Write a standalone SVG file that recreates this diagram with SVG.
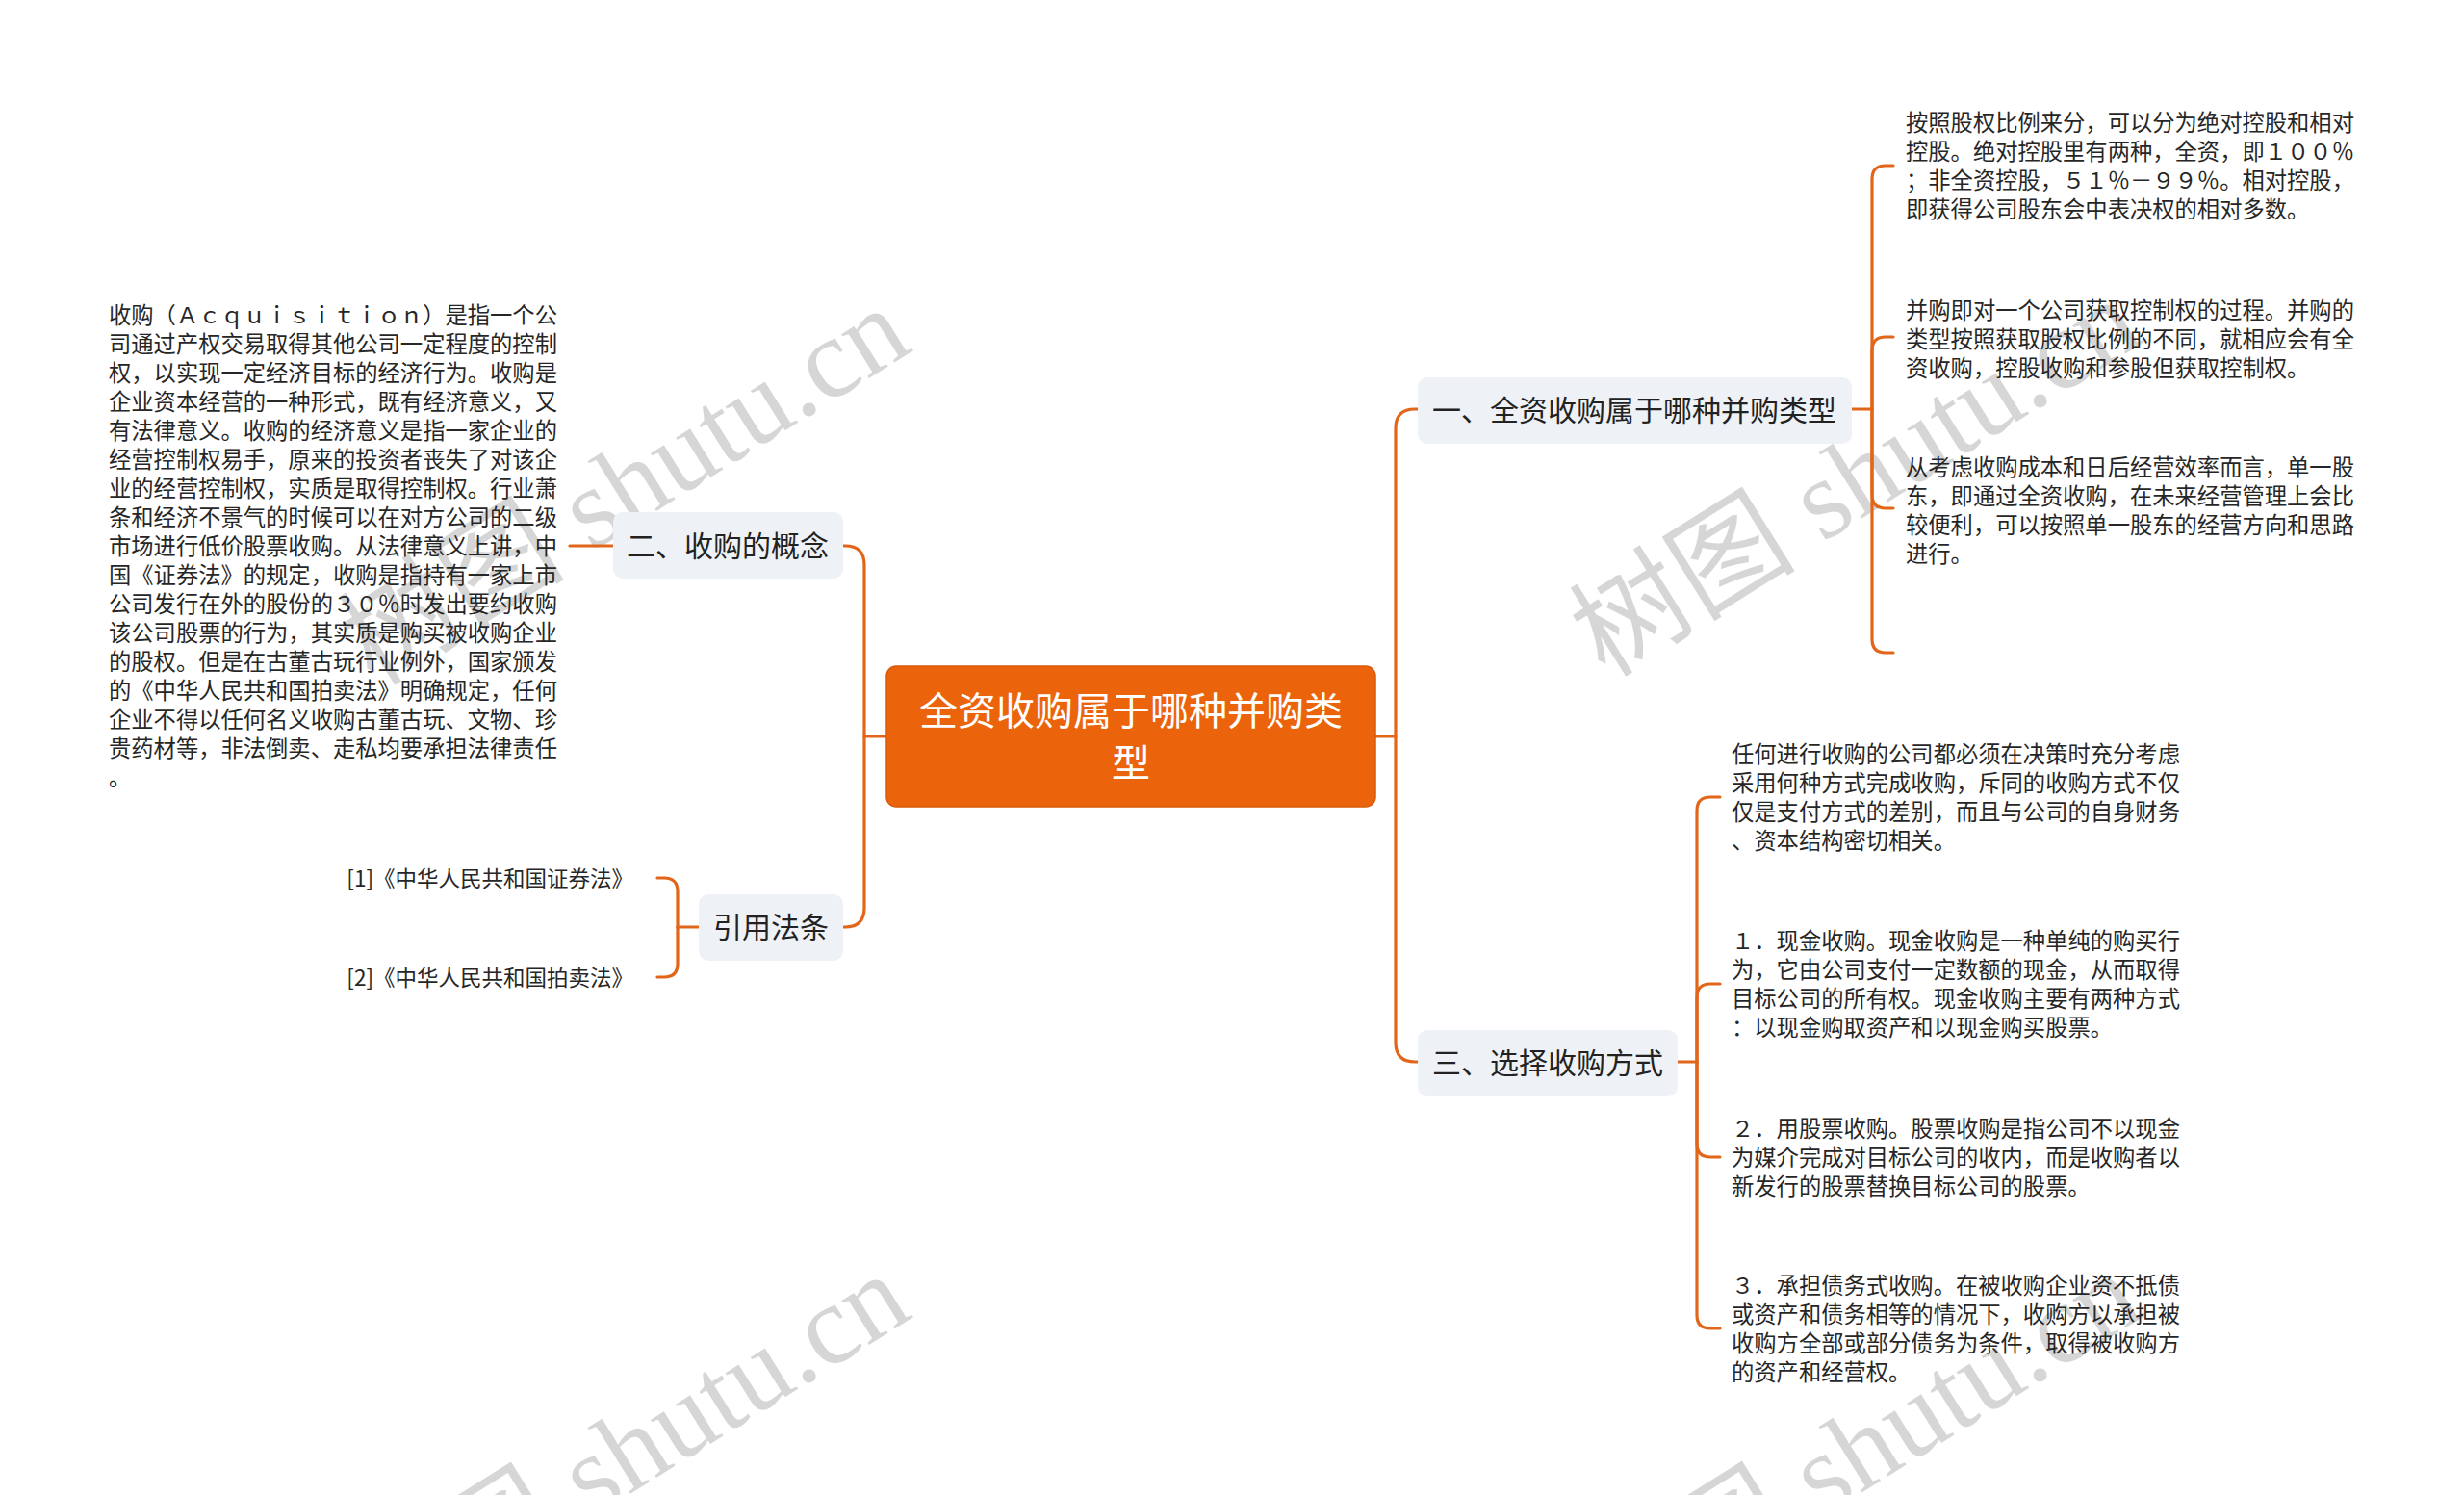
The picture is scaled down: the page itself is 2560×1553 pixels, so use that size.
<svg xmlns="http://www.w3.org/2000/svg" width="2560" height="1553" viewBox="0 0 2560 1553">
<style>
.wm{font-family:"Liberation Serif","Noto Sans CJK SC",serif;font-size:118px;fill:#000;fill-opacity:0.16}
.conn{fill:none;stroke:#E2661A;stroke-width:3.2;stroke-linecap:round}
.l1box{fill:#EEF1F5}
.l1txt{font-family:"Noto Sans CJK SC","Microsoft YaHei",sans-serif;font-size:30px;fill:#222;text-anchor:middle}
.ctr{fill:#EB640C;stroke:#D85A0A;stroke-width:1.5}
.ctrtxt{font-family:"Noto Sans CJK SC",sans-serif;font-size:40px;fill:#fff;text-anchor:middle}
.t{font-family:"Noto Sans CJK SC",sans-serif;font-size:23.3px;fill:#262626}
.ref{font-family:"Noto Sans CJK SC",sans-serif;font-size:22.5px;fill:#262626;text-anchor:end}
</style>
<rect width="2560" height="1553" fill="#ffffff"/>
<g id="watermarks">
<text class="wm" transform="translate(389,714) rotate(-32)">树图 shutu.cn</text>
<text class="wm" transform="translate(1668,705) rotate(-32)">树图 shutu.cn</text>
<text class="wm" transform="translate(389,1718) rotate(-32)">树图 shutu.cn</text>
<text class="wm" transform="translate(1668,1717) rotate(-32)">树图 shutu.cn</text>
</g>
<g id="connectors">
<path class="conn" d="M1429,765 H1450"/>
<path class="conn" d="M1473,425 H1470 Q1450,425 1450,445 V1083 Q1450,1103 1470,1103 H1473"/>
<path class="conn" d="M921,765 H898"/>
<path class="conn" d="M876,567 H878 Q898,567 898,587 V943 Q898,963 878,963 H876"/>
<path class="conn" d="M1924,425 H1945"/>
<path class="conn" d="M1945,425 V186 Q1945,172 1959,172 H1967"/>
<path class="conn" d="M1945,425 V364 Q1945,350 1959,350 H1967"/>
<path class="conn" d="M1945,425 V514 Q1945,528 1959,528 H1967"/>
<path class="conn" d="M1945,425 V664 Q1945,678 1959,678 H1967"/>
<path class="conn" d="M1743,1103 H1763"/>
<path class="conn" d="M1763,1103 V842 Q1763,828 1777,828 H1787"/>
<path class="conn" d="M1763,1103 V1036 Q1763,1022 1777,1022 H1787"/>
<path class="conn" d="M1763,1103 V1188 Q1763,1202 1777,1202 H1787"/>
<path class="conn" d="M1763,1103 V1366 Q1763,1380 1777,1380 H1787"/>
<path class="conn" d="M726,963 H704"/>
<path class="conn" d="M704,963 V926 Q704,912 690,912 H683"/>
<path class="conn" d="M704,963 V1001 Q704,1015 690,1015 H683"/>
<path class="conn" d="M637,567 H592"/>
</g>
<g id="center">
<rect class="ctr" x="921" y="692" width="508" height="146" rx="10"/>
<text class="ctrtxt" x="1175" y="753">全资收购属于哪种并购类</text>
<text class="ctrtxt" x="1175" y="807">型</text>
</g>
<g id="node-1">
<rect class="l1box" x="1473" y="392" width="451" height="69" rx="10"/>
<text class="l1txt" x="1698" y="437">一、全资收购属于哪种并购类型</text>
</g>
<g id="node-2">
<rect class="l1box" x="637" y="532" width="239" height="69" rx="10"/>
<text class="l1txt" x="756" y="578">二、收购的概念</text>
</g>
<g id="node-ref">
<rect class="l1box" x="726" y="929" width="150" height="69" rx="10"/>
<text class="l1txt" x="801" y="974">引用法条</text>
</g>
<g id="node-3">
<rect class="l1box" x="1473" y="1070" width="270" height="69" rx="10"/>
<text class="l1txt" x="1608" y="1115">三、选择收购方式</text>
</g>
<g id="node-2-1">
<text class="t" x="113" y="336">收购（Ａｃｑｕｉｓｉｔｉｏｎ）是指一个公</text>
<text class="t" x="113" y="366">司通过产权交易取得其他公司一定程度的控制</text>
<text class="t" x="113" y="396">权，以实现一定经济目标的经济行为。收购是</text>
<text class="t" x="113" y="426">企业资本经营的一种形式，既有经济意义，又</text>
<text class="t" x="113" y="456">有法律意义。收购的经济意义是指一家企业的</text>
<text class="t" x="113" y="486">经营控制权易手，原来的投资者丧失了对该企</text>
<text class="t" x="113" y="516">业的经营控制权，实质是取得控制权。行业萧</text>
<text class="t" x="113" y="546">条和经济不景气的时候可以在对方公司的二级</text>
<text class="t" x="113" y="576">市场进行低价股票收购。从法律意义上讲，中</text>
<text class="t" x="113" y="606">国《证券法》的规定，收购是指持有一家上市</text>
<text class="t" x="113" y="636">公司发行在外的股份的３０％时发出要约收购</text>
<text class="t" x="113" y="666">该公司股票的行为，其实质是购买被收购企业</text>
<text class="t" x="113" y="696">的股权。但是在古董古玩行业例外，国家颁发</text>
<text class="t" x="113" y="726">的《中华人民共和国拍卖法》明确规定，任何</text>
<text class="t" x="113" y="756">企业不得以任何名义收购古董古玩、文物、珍</text>
<text class="t" x="113" y="786">贵药材等，非法倒卖、走私均要承担法律责任</text>
<text class="t" x="113" y="816">。</text>
</g>
<g id="node-ref-1">
<text class="ref" x="658" y="921">[1]《中华人民共和国证券法》</text>
</g>
<g id="node-ref-2">
<text class="ref" x="658" y="1024">[2]《中华人民共和国拍卖法》</text>
</g>
<g id="node-1-1">
<text class="t" x="1980" y="136">按照股权比例来分，可以分为绝对控股和相对</text>
<text class="t" x="1980" y="166">控股。绝对控股里有两种，全资，即１００％</text>
<text class="t" x="1980" y="196">；非全资控股，５１％－９９％。相对控股，</text>
<text class="t" x="1980" y="226">即获得公司股东会中表决权的相对多数。</text>
</g>
<g id="node-1-2">
<text class="t" x="1980" y="331">并购即对一个公司获取控制权的过程。并购的</text>
<text class="t" x="1980" y="361">类型按照获取股权比例的不同，就相应会有全</text>
<text class="t" x="1980" y="391">资收购，控股收购和参股但获取控制权。</text>
</g>
<g id="node-1-3">
<text class="t" x="1980" y="494">从考虑收购成本和日后经营效率而言，单一股</text>
<text class="t" x="1980" y="524">东，即通过全资收购，在未来经营管理上会比</text>
<text class="t" x="1980" y="554">较便利，可以按照单一股东的经营方向和思路</text>
<text class="t" x="1980" y="584">进行。</text>
</g>
<g id="node-3-1">
<text class="t" x="1799" y="792">任何进行收购的公司都必须在决策时充分考虑</text>
<text class="t" x="1799" y="822">采用何种方式完成收购，斥同的收购方式不仅</text>
<text class="t" x="1799" y="852">仅是支付方式的差别，而且与公司的自身财务</text>
<text class="t" x="1799" y="882">、资本结构密切相关。</text>
</g>
<g id="node-3-2">
<text class="t" x="1799" y="986">１．现金收购。现金收购是一种单纯的购买行</text>
<text class="t" x="1799" y="1016">为，它由公司支付一定数额的现金，从而取得</text>
<text class="t" x="1799" y="1046">目标公司的所有权。现金收购主要有两种方式</text>
<text class="t" x="1799" y="1076">：以现金购取资产和以现金购买股票。</text>
</g>
<g id="node-3-3">
<text class="t" x="1799" y="1181">２．用股票收购。股票收购是指公司不以现金</text>
<text class="t" x="1799" y="1211">为媒介完成对目标公司的收内，而是收购者以</text>
<text class="t" x="1799" y="1241">新发行的股票替换目标公司的股票。</text>
</g>
<g id="node-3-4">
<text class="t" x="1799" y="1344">３．承担债务式收购。在被收购企业资不抵债</text>
<text class="t" x="1799" y="1374">或资产和债务相等的情况下，收购方以承担被</text>
<text class="t" x="1799" y="1404">收购方全部或部分债务为条件，取得被收购方</text>
<text class="t" x="1799" y="1434">的资产和经营权。</text>
</g>
</svg>
